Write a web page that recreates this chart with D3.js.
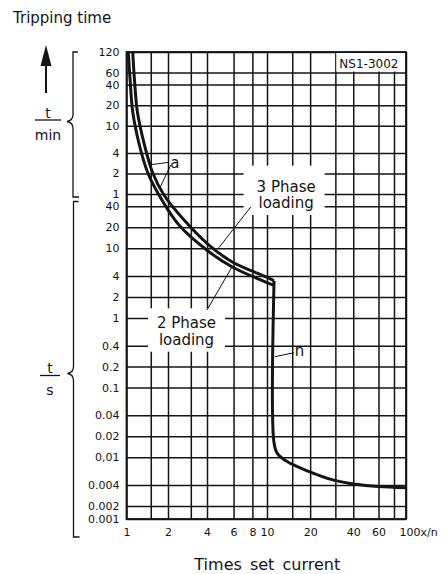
<!DOCTYPE html>
<html>
<head>
<meta charset="utf-8">
<script src="https://cdn.jsdelivr.net/npm/d3@7"></script>
<style>
  body { margin: 0; background: #fff; }
  svg text { font-family: "DejaVu Sans", sans-serif; fill: #141414; }
</style>
</head>
<body>
<div id="chart"></div>
<script>
// x: multiples of set current, y: tripping time in seconds
const xGrid = [1, 1.5, 2, 3, 4, 6, 8, 10, 15, 20, 30, 40, 60, 80, 100];
const xTicks = [1, 2, 4, 6, 8, 10, 20, 40, 60, 100];
const minTicks = [120, 60, 40, 20, 10, 4, 2, 1];
const secTicks = [40, 20, 10, 4, 2, 1, 0.4, 0.2, 0.1, 0.04, 0.02, 0.01, 0.004, 0.002, 0.001];
const secLabels = ["40", "20", "10", "4", "2", "1", "0.4", "0.2", "0.1", "0.04", "0.02", "0,01", "0.004", "0.002", "0.001"];

// curves: [times set current, seconds]
const phase3 = [[1.11, 7200], [1.14, 2990], [1.2, 950], [1.35, 313], [1.54, 126], [1.87, 58],
  [2.66, 25.4], [4.12, 11.1], [5.89, 6.35], [10.3, 3.72], [11.2, 3.39]];
const phase2 = [[1.03, 7200], [1.06, 2990], [1.11, 950], [1.24, 313], [1.42, 126], [1.72, 58],
  [2.43, 21.5], [4.12, 8.9], [5.89, 5.38], [10.3, 3.14], [11.2, 2.95]];
const instant = [[11.2, 3.39], [11.2, 0.016], [11.8, 0.0114], [13.8, 0.0087], [19.1, 0.0064],
  [29.2, 0.0047], [41.4, 0.0041], [60, 0.0038], [100, 0.00365]];

// leader lines for the notes, same units
const leadersA = [[[2.04, 175], [1.46, 160]], [[2.1, 159], [1.74, 73]]];
const leader3 = [[7.8, 39], [4.8, 10.2]];
const leader2 = [[4.0, 1.3], [5.89, 5.5]];
const leaderN = [[11.35, 0.278], [15.4, 0.316]];

const W = 448, H = 574;
const ink = "#141414";
const svg = d3.select("#chart").append("svg").attr("width", W).attr("height", H);

// the paper chart is hand drawn, so both scales are piecewise log
const x = d3.scaleLog().domain([1, 2, 4, 10, 60, 100]).range([126.5, 168, 207, 267, 378.5, 406]);
const y = d3.scaleLog().domain([7200, 60, 0.002, 0.001]).range([52, 194, 506, 519]);
const tTop = 7200, tBot = 0.001;
const allT = minTicks.map(m => m * 60).concat(secTicks);

// grid
svg.append("g")
  .attr("transform", `translate(0,${y(tBot)})`)
  .call(d3.axisBottom(x).tickValues(xGrid).tickSize(-(y(tBot) - y(tTop))).tickFormat(""))
  .call(g => g.select(".domain").remove())
  .selectAll("line").attr("stroke", ink).attr("stroke-width", 1.5);

svg.append("g")
  .attr("transform", `translate(${x(1)},0)`)
  .call(d3.axisLeft(y).tickValues(allT).tickSize(-(x(100) - x(1))).tickFormat(""))
  .call(g => g.select(".domain").remove())
  .selectAll("line").attr("stroke", ink).attr("stroke-width", 1.5);

svg.append("rect")
  .attr("x", x(1)).attr("y", y(tTop))
  .attr("width", x(100) - x(1)).attr("height", y(tBot) - y(tTop))
  .attr("fill", "none").attr("stroke", ink).attr("stroke-width", 1.8);

// tick labels
svg.append("g")
  .attr("transform", `translate(${x(1)},0)`)
  .call(d3.axisLeft(y).tickValues(allT).tickSize(0).tickPadding(7)
    .tickFormat(d => d >= 60 ? String(d / 60) : secLabels[secTicks.indexOf(d)]))
  .call(g => g.select(".domain").remove())
  .attr("font-family", null).attr("font-size", 11);

svg.append("g")
  .attr("transform", `translate(0,${y(tBot)})`)
  .call(d3.axisBottom(x).tickValues(xTicks).tickSize(0).tickPadding(9)
    .tickFormat(d => d === 100 ? "100x/n" : String(d)))
  .call(g => g.select(".domain").remove())
  .attr("font-family", null).attr("font-size", 11)
  .selectAll("text").filter(d => d === 100)
  .attr("text-anchor", "start").attr("x", -7);

// masks + notes
const masks = svg.append("g");
const notes = svg.append("g");

masks.append("rect")
  .attr("x", x(30) + 1).attr("y", y(tTop) + 1)
  .attr("width", x(100) - x(30) - 2).attr("height", y(3600) - y(tTop) - 2)
  .attr("fill", "#fff");
notes.append("text")
  .attr("x", x(30) + 4).attr("y", y(3600) - 4.5)
  .attr("font-size", 12).text("NS1-3002");

function twoLine(lines, at, pad) {
  const t = notes.append("text")
    .attr("x", x(at[0])).attr("y", y(at[1]))
    .attr("text-anchor", "middle").attr("font-size", 15);
  t.selectAll("tspan").data(lines).join("tspan")
    .attr("x", x(at[0])).attr("dy", (d, i) => i ? 16.4 : 0).text(d => d);
  const b = t.node().getBBox();
  masks.append("rect")
    .attr("x", b.x - pad[3]).attr("y", b.y - pad[0])
    .attr("width", b.width + pad[1] + pad[3]).attr("height", b.height + pad[0] + pad[2])
    .attr("fill", "#fff");
}
twoLine(["3 Phase", "loading"], [13.6, 65], [12, 9, 3, 13]);
twoLine(["2 Phase", "loading"], [2.78, 0.71], [6, 9, 3, 9]);

notes.append("text").attr("x", x(2.26)).attr("y", y(144))
  .attr("text-anchor", "middle").attr("font-size", 15).text("a");
notes.append("text").attr("x", x(15.6)).attr("y", y(0.285))
  .attr("font-size", 15).text("n");

const seg = d3.line().x(d => x(d[0])).y(d => y(d[1]));
notes.selectAll("path.lead")
  .data(leadersA.concat([leader3, leader2, leaderN]))
  .join("path").attr("class", "lead")
  .attr("d", seg).attr("fill", "none").attr("stroke", ink).attr("stroke-width", 1);

// curves
const curve = d3.line().x(d => x(d[0])).y(d => y(d[1])).curve(d3.curveCatmullRom.alpha(0.5));
svg.append("g").selectAll("path")
  .data([phase3, phase2, instant])
  .join("path")
  .attr("d", curve)
  .attr("fill", "none").attr("stroke", ink).attr("stroke-width", 3)
  .attr("stroke-linejoin", "round");

// left side: arrow, units and braces
svg.append("text").attr("x", 13).attr("y", 23).attr("font-size", 15).text("Tripping time");

svg.append("line").attr("x1", 46).attr("x2", 46).attr("y1", 93).attr("y2", 62)
  .attr("stroke", ink).attr("stroke-width", 2);
svg.append("path").attr("d", "M46,45 L40.5,66 L51.5,66 Z").attr("fill", ink);

function unit(top, bottom, cx, lineY, lw) {
  svg.append("text").attr("x", cx).attr("y", lineY - 2.5).attr("text-anchor", "middle")
    .attr("font-size", 14).text(top);
  svg.append("line").attr("x1", cx - lw / 2).attr("x2", cx + lw / 2)
    .attr("y1", lineY).attr("y2", lineY).attr("stroke", ink).attr("stroke-width", 1.3);
  svg.append("text").attr("x", cx).attr("y", lineY + 19.5).attr("text-anchor", "middle")
    .attr("font-size", 14).text(bottom);
}
unit("t", "min", 48, 120, 26);
unit("t", "s", 50, 375.5, 20);

function brace(x0, top, bottom, mid) {
  svg.append("path")
    .attr("d", `M${x0 + 5},${top} H${x0} V${mid - 7} Q${x0},${mid - 1} ${x0 - 6},${mid}` +
      ` Q${x0},${mid + 1} ${x0},${mid + 7} V${bottom} H${x0 + 6}`)
    .attr("fill", "none").attr("stroke", ink).attr("stroke-width", 1.3);
}
brace(73, y(tTop), y(60) + 3, 121.5);
brace(73.5, y(60) + 7.5, y(tBot) + 18, 373.5);

svg.append("text").attr("x", (x(1) + x(100)) / 2 + 1).attr("y", 570)
  .attr("text-anchor", "middle").attr("font-size", 16).attr("word-spacing", 3)
  .text("Times set current");
</script>
</body>
</html>
